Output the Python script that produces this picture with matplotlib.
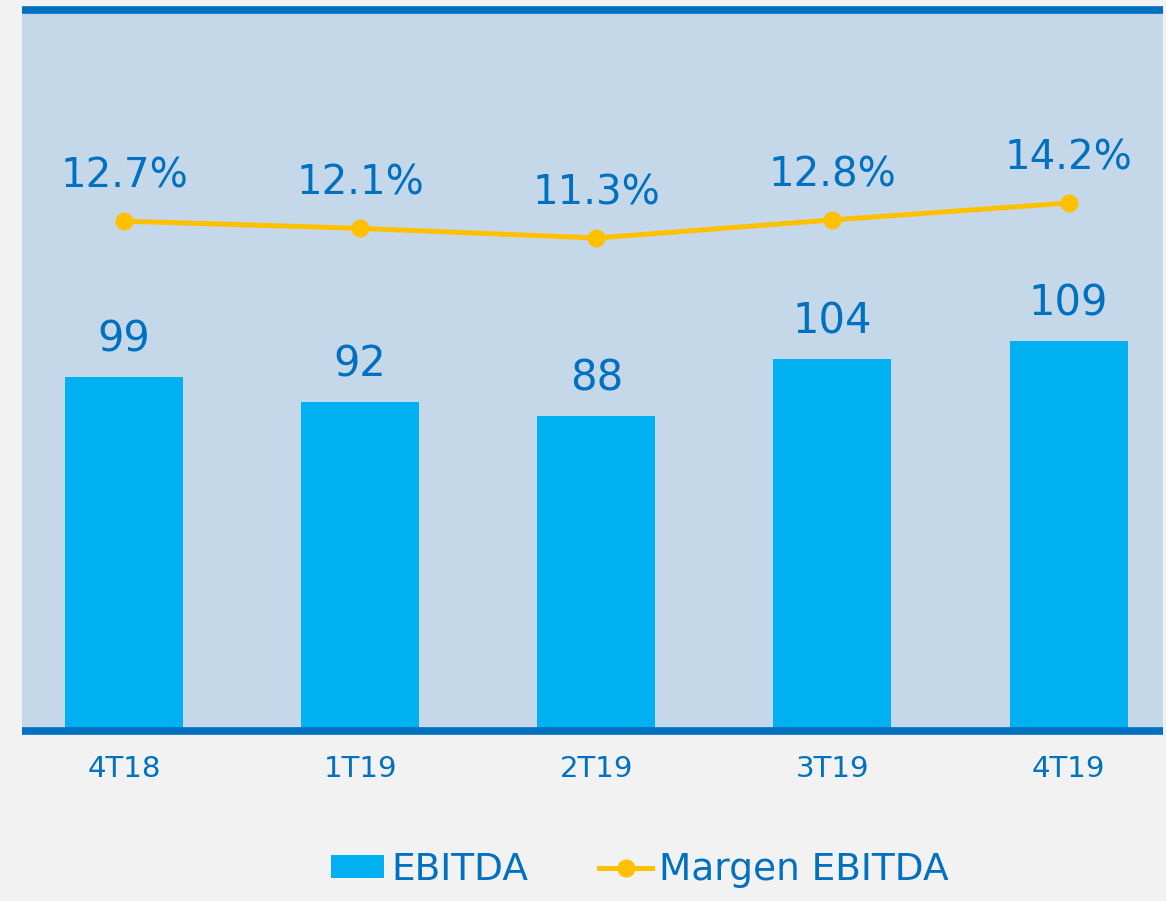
import matplotlib.pyplot as plt
from matplotlib.lines import Line2D
from matplotlib.patches import Patch

quarters = ['4T18', '1T19', '2T19', '3T19', '4T19']
ebitda = [99, 92, 88, 104, 109]
margin = [12.7, 12.1, 11.3, 12.8, 14.2]

bar_color = '#00B0F0'
text_color = '#0070C0'
line_color = '#FFC000'

fig = plt.figure(figsize=(11.66, 9.01), dpi=100)
fig.patch.set_facecolor('#F2F2F2')

W, H = 1166, 901
ax = fig.add_axes([22 / W, (H - 731) / H, (1163 - 22) / W, (731 - 10) / H])
ax.set_facecolor('#C5D8E9')

x = list(range(len(quarters)))
ax.bar(x, ebitda, width=0.5, color=bar_color, zorder=2)
ax.set_xlim(-0.432, 4.40)
ax.set_ylim(0, 201.5)
for xi, v in zip(x, ebitda):
    ax.annotate(str(v), (xi, v), xytext=(0, 27), textcoords='offset points',
                ha='center', va='center', fontsize=30, color=text_color)

ax.set_xticks(x)
ax.set_xticklabels(quarters, fontsize=21, color=text_color)
ax.tick_params(axis='x', length=0, pad=17)
ax.set_yticks([])
for s in ['left', 'right']:
    ax.spines[s].set_visible(False)
for s in ['top', 'bottom']:
    ax.spines[s].set_color(text_color)
    ax.spines[s].set_linewidth(5.5)
    ax.spines[s].set_capstyle('butt')

# margin line on a second axis
ax2 = ax.twinx()
ax2.plot(x, margin, color=line_color, linewidth=3.6, marker='o', markersize=12, zorder=3)
ax2.set_ylim(-29.54, 30.19)
ax2.set_yticks([])
for s in ['left', 'right', 'top', 'bottom']:
    ax2.spines[s].set_visible(False)
for xi, v in zip(x, margin):
    ax2.annotate(f'{v:.1f}%', (xi, v), xytext=(0, 32), textcoords='offset points',
                 ha='center', va='center', fontsize=29, color=text_color)

handles = [Patch(facecolor=bar_color, label='EBITDA'),
           Line2D([0], [0], color=line_color, linewidth=3.6, marker='o', markersize=12,
                  label='Margen EBITDA')]
fig.legend(handles=handles, loc='center', bbox_to_anchor=(640 / W, (H - 870) / H),
           ncol=2, frameon=False, fontsize=27, labelcolor=text_color,
           handlelength=1.4, handleheight=0.55, handletextpad=0.2, columnspacing=1.9)

plt.savefig('out.png', dpi=100, facecolor=fig.get_facecolor())
plt.close()
